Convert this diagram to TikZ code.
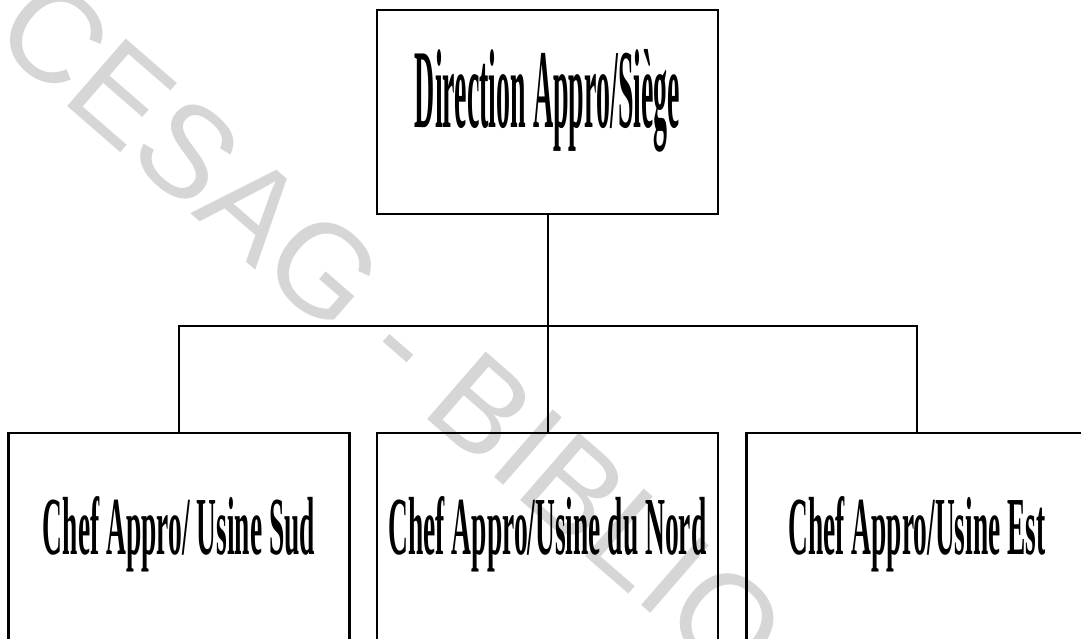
\documentclass[tikz,border=0pt]{standalone}
\usepackage{graphicx,color}
\usepackage{fontspec}
\setmainfont{Liberation Serif}
\newfontfamily\wmfont{Liberation Sans}
\usepackage{tikz}
\definecolor{wmgray}{RGB}{214,214,214}
\tikzset{
  orgbox/.style={draw,line width=2.4pt,minimum width=341pt,minimum height=204pt,
    text height=90pt,text depth=58pt,inner sep=0pt,font=\bfseries},
  orgline/.style={line width=2pt}
}

\begin{document}
\begin{tikzpicture}[x=1pt,y=1pt]
\useasboundingbox (0,0) rectangle (1081,639);
\clip (0,0) rectangle (1081,639);
\node (wmark) at (392,310) [rotate=-41,text=wmgray,font=\wmfont\fontsize{130}{130}\selectfont] {CESAG - BIBLIO};
\node (dir) at (547.5,527) [orgbox] {\resizebox{265pt}{78pt}{Direction Appro/Siège}};
\node (sud) at (179,100) [orgbox,minimum height=212pt] {\resizebox{272pt}{58pt}{Chef Appro/ Usine Sud}};
\node (nord) at (547.5,100) [orgbox,minimum height=212pt] {\resizebox{318pt}{58pt}{Chef Appro/Usine du Nord}};
\node (est) at (917,100) [orgbox,minimum height=212pt] {\resizebox{257pt}{58pt}{Chef Appro/Usine Est}};
\coordinate (bus) at (547.5,313);
\draw [orgline] (dir.south) -- (nord.north);
\draw [orgline] (sud.north) -- (sud.north |- bus) -- (est.north |- bus) -- (est.north);
\end{tikzpicture}
\end{document}
